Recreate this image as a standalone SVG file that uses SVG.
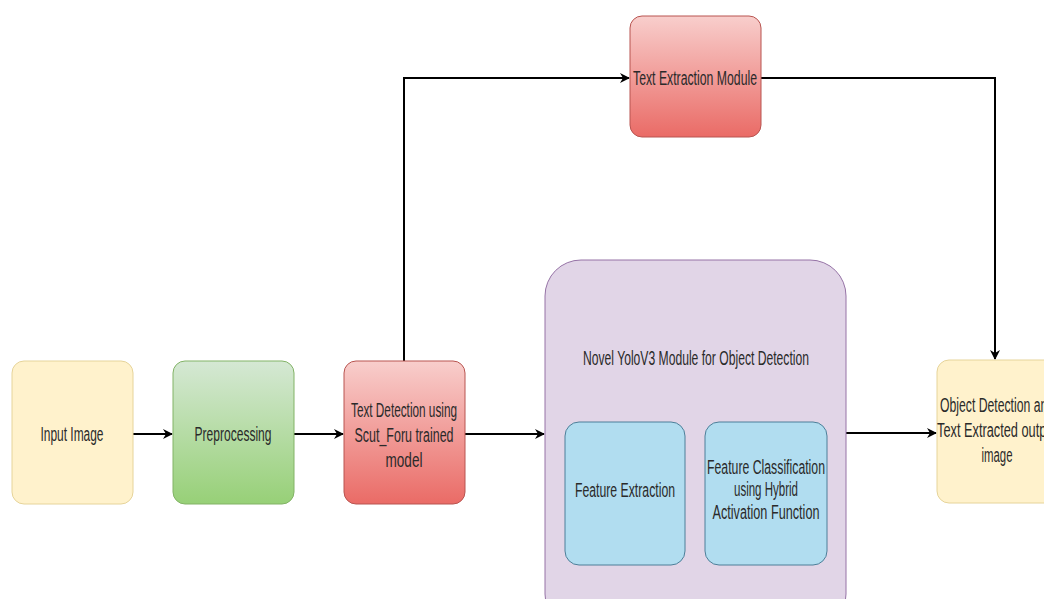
<svg xmlns="http://www.w3.org/2000/svg" width="1044" height="599" viewBox="0 0 1044 599">
<defs>
<linearGradient id="gGreen" x1="0" y1="0" x2="0" y2="1"><stop offset="0" stop-color="#d5e8d4"/><stop offset="1" stop-color="#97d077"/></linearGradient>
<linearGradient id="gRed" x1="0" y1="0" x2="0" y2="1"><stop offset="0" stop-color="#f8cecc"/><stop offset="1" stop-color="#ea6b66"/></linearGradient>
<marker id="arr" markerWidth="10" markerHeight="10" refX="9" refY="5" orient="auto" markerUnits="userSpaceOnUse"><path d="M0,0 L10,5 L0,10 L3,5 Z" fill="#000"/></marker>
</defs>
<style>
.t{font-family:"Liberation Sans",Arial,sans-serif;font-size:20px;fill:#2a2a2a;text-anchor:middle;dominant-baseline:central}
.c{fill:none;stroke:#000;stroke-width:2}
</style>
<rect width="1044" height="599" fill="#fff"/>
<g id="connectors">
<path class="c" d="M133,434 H172" marker-end="url(#arr)"/>
<path class="c" d="M294,434 H343" marker-end="url(#arr)"/>
<path class="c" d="M465,434 H544" marker-end="url(#arr)"/>
<path class="c" d="M846,433 H936" marker-end="url(#arr)"/>
<path class="c" d="M404,361 V78 H629" marker-end="url(#arr)"/>
<path class="c" d="M761,78 H995 V359" marker-end="url(#arr)"/>
</g>
<g id="input">
<rect x="12" y="361" width="121" height="143" rx="12" fill="#fff2cc" stroke="#e6d49a" stroke-width="1"/>
<text class="t" x="72" y="434" textLength="63" lengthAdjust="spacingAndGlyphs">Input Image</text>
</g>
<g id="preprocessing">
<rect x="173" y="361" width="121" height="143" rx="12" fill="url(#gGreen)" stroke="#82b366" stroke-width="1"/>
<text class="t" x="233" y="434" textLength="77" lengthAdjust="spacingAndGlyphs">Preprocessing</text>
</g>
<g id="textdetection">
<rect x="344" y="361" width="121" height="143" rx="12" fill="url(#gRed)" stroke="#b85450" stroke-width="1"/>
<text class="t" x="404" y="410" textLength="106" lengthAdjust="spacingAndGlyphs">Text Detection using</text>
<text class="t" x="404" y="435" textLength="99" lengthAdjust="spacingAndGlyphs">Scut_Foru  trained</text>
<text class="t" x="404" y="460" textLength="37" lengthAdjust="spacingAndGlyphs">model</text>
</g>
<g id="textextraction">
<rect x="630" y="16" width="131" height="121" rx="12" fill="url(#gRed)" stroke="#b85450" stroke-width="1"/>
<text class="t" x="695" y="78" textLength="124" lengthAdjust="spacingAndGlyphs">Text Extraction Module</text>
</g>
<g id="yolo">
<rect x="545" y="260" width="301" height="370" rx="36" fill="#e1d5e7" stroke="#9673a6" stroke-width="1"/>
<text class="t" x="696" y="358" textLength="226" lengthAdjust="spacingAndGlyphs">Novel YoloV3 Module for Object Detection</text>
</g>
<g id="featureextraction">
<rect x="565" y="422" width="120" height="143" rx="14" fill="#b1ddf0" stroke="#4d7f99" stroke-width="1"/>
<text class="t" x="625" y="490" textLength="100" lengthAdjust="spacingAndGlyphs">Feature Extraction</text>
</g>
<g id="featureclassification">
<rect x="705" y="422" width="122" height="143" rx="14" fill="#b1ddf0" stroke="#4d7f99" stroke-width="1"/>
<text class="t" x="766" y="467" textLength="118" lengthAdjust="spacingAndGlyphs">Feature Classification</text>
<text class="t" x="766" y="489" textLength="64" lengthAdjust="spacingAndGlyphs">using Hybrid</text>
<text class="t" x="766" y="512" textLength="107" lengthAdjust="spacingAndGlyphs">Activation Function</text>
</g>
<g id="output">
<rect x="937" y="360" width="121" height="143" rx="12" fill="#fff2cc" stroke="#e6d49a" stroke-width="1"/>
<text class="t" x="997" y="405" textLength="114" lengthAdjust="spacingAndGlyphs">Object Detection and</text>
<text class="t" x="997" y="430" textLength="120" lengthAdjust="spacingAndGlyphs">Text Extracted output</text>
<text class="t" x="997" y="455" textLength="31" lengthAdjust="spacingAndGlyphs">image</text>
</g>
</svg>
